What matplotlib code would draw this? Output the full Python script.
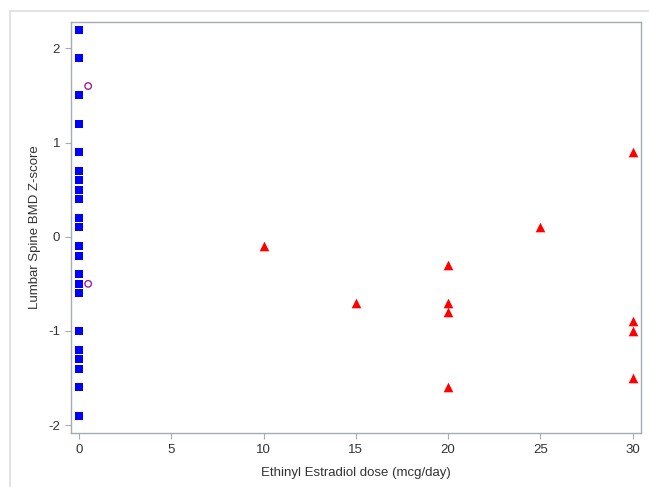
import matplotlib
matplotlib.use("Agg")
import matplotlib.pyplot as plt
from matplotlib.lines import Line2D

# no estradiol (dose 0)
none_y = [2.2, 1.9, 1.5, 1.2, 0.9, 0.7, 0.6, 0.5, 0.4, 0.2, 0.1, -0.1,
          -0.2, -0.4, -0.5, -0.6, -1.0, -1.2, -1.3, -1.4, -1.6, -1.9]
none_x = [0] * len(none_y)

# low dose group
low_x = [0.5, 0.5]
low_y = [1.6, -0.5]

# ethinyl estradiol doses
ee_x = [10, 15, 20, 20, 20, 20, 25, 30, 30, 30, 30]
ee_y = [-0.1, -0.7, -0.3, -0.7, -0.8, -1.6, 0.1, 0.9, -0.9, -1.0, -1.5]

xticks = [0, 5, 10, 15, 20, 25, 30]
yticks = [-2, -1, 0, 1, 2]

plt.rcParams["font.family"] = ["Liberation Sans", "DejaVu Sans"]
plt.rcParams["axes.unicode_minus"] = False

fig = plt.figure(figsize=(6.49, 4.87), dpi=100)
ax = fig.add_axes([71 / 649, 1 - 433.3 / 487, (641 - 71) / 649, (433.3 - 21.7) / 487])

ax.scatter(none_x, none_y, marker="s", s=36, color="#0000ff", linewidths=0, zorder=3)
ax.scatter(low_x, low_y, marker="o", s=22, facecolors="none", edgecolors="#a020a0",
           linewidths=1.0, zorder=3)
ax.scatter(ee_x, ee_y, marker="^", s=48, color="#ff0000", linewidths=0, zorder=3)

ax.set_xlim(-0.43, 30.45)
ax.set_ylim(-2.087, 2.283)
ax.set_xticks(xticks)
ax.set_yticks(yticks)

spine_col = "#a4acb4"
for side in ["top", "right", "bottom", "left"]:
    ax.spines[side].set_color(spine_col)
    ax.spines[side].set_linewidth(1.0)
ax.tick_params(direction="out", length=4.3, width=0.8, color=spine_col,
               labelsize=9.5, labelcolor="#333333", pad=3.5)

ax.set_xlabel("Ethinyl Estradiol dose (mcg/day)", fontsize=9.5, color="#333333", labelpad=7.5)
ax.set_ylabel("Lumbar Spine BMD Z-score", fontsize=9.5, color="#333333", labelpad=5)

# light outer frame (top and left edges)
frame_col = "#dedede"
fig.add_artist(Line2D([10 / 649, 1], [1 - 11 / 487, 1 - 11 / 487],
                      transform=fig.transFigure, color=frame_col, lw=1.2))
fig.add_artist(Line2D([10 / 649, 10 / 649], [0, 1 - 11 / 487],
                      transform=fig.transFigure, color=frame_col, lw=1.2))

fig.savefig("out.png", dpi=100)
